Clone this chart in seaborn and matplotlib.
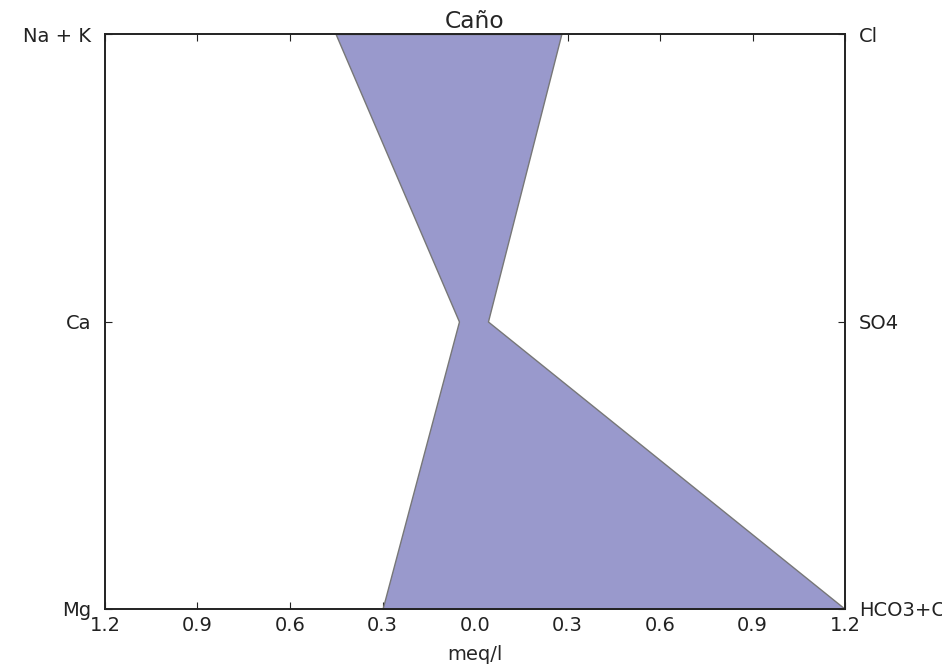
import matplotlib
matplotlib.use("Agg")
import matplotlib.pyplot as plt
import seaborn as sns
import numpy as np

title = "Caño"
cations = ["Mg", "Ca", "Na + K"]
anions = ["HCO3+CO3", "SO4", "Cl"]
cation_vals = [0.30, 0.052, 0.452]
anion_vals = [1.2, 0.042, 0.28]
xticks = [-1.2, -0.9, -0.6, -0.3, 0.0, 0.3, 0.6, 0.9, 1.2]

sns.set_style("ticks")
plt.rcParams['font.family'] = ['DejaVu Sans']

fig = plt.figure(figsize=(9.42, 6.70), dpi=100)
ax = fig.add_axes([105/942, 1 - 609/670, 740/942, 575/670])

ypos = np.arange(len(cations))
left = -np.array(cation_vals)
right = np.array(anion_vals)
ax.fill_betweenx(ypos, left, right, facecolor=(0.6, 0.6, 0.8),
                 edgecolor="#777777", linewidth=1.0)

ax.set_xlim(-1.2, 1.2)
ax.set_ylim(0, len(cations) - 1)
ax.set_xticks(xticks)
ax.set_xticklabels([f"{abs(v):.1f}" for v in xticks], fontsize=14)
ax.set_yticks(ypos)
ax.set_yticklabels(cations, fontsize=14)
ax.set_xlabel("meq/l", fontsize=14, labelpad=7)
ax.set_title(title, fontsize=16.8, pad=4)
ax.tick_params(axis="x", direction="in", top=True, length=5, width=0.8, pad=5, colors="#222222")
ax.tick_params(axis="y", direction="in", length=5, width=0.8, pad=10, colors="#222222")

ax2 = ax.twinx()
ax2.set_ylim(ax.get_ylim())
ax2.set_yticks(ypos)
ax2.set_yticklabels(anions, fontsize=14)
ax2.tick_params(axis="y", direction="in", length=5, width=0.8, pad=10, colors="#222222")

for a in (ax, ax2):
    for s in a.spines.values():
        s.set_visible(True)
        s.set_color("#222222")
        s.set_linewidth(1.2)

fig.savefig("out.png", dpi=100)
